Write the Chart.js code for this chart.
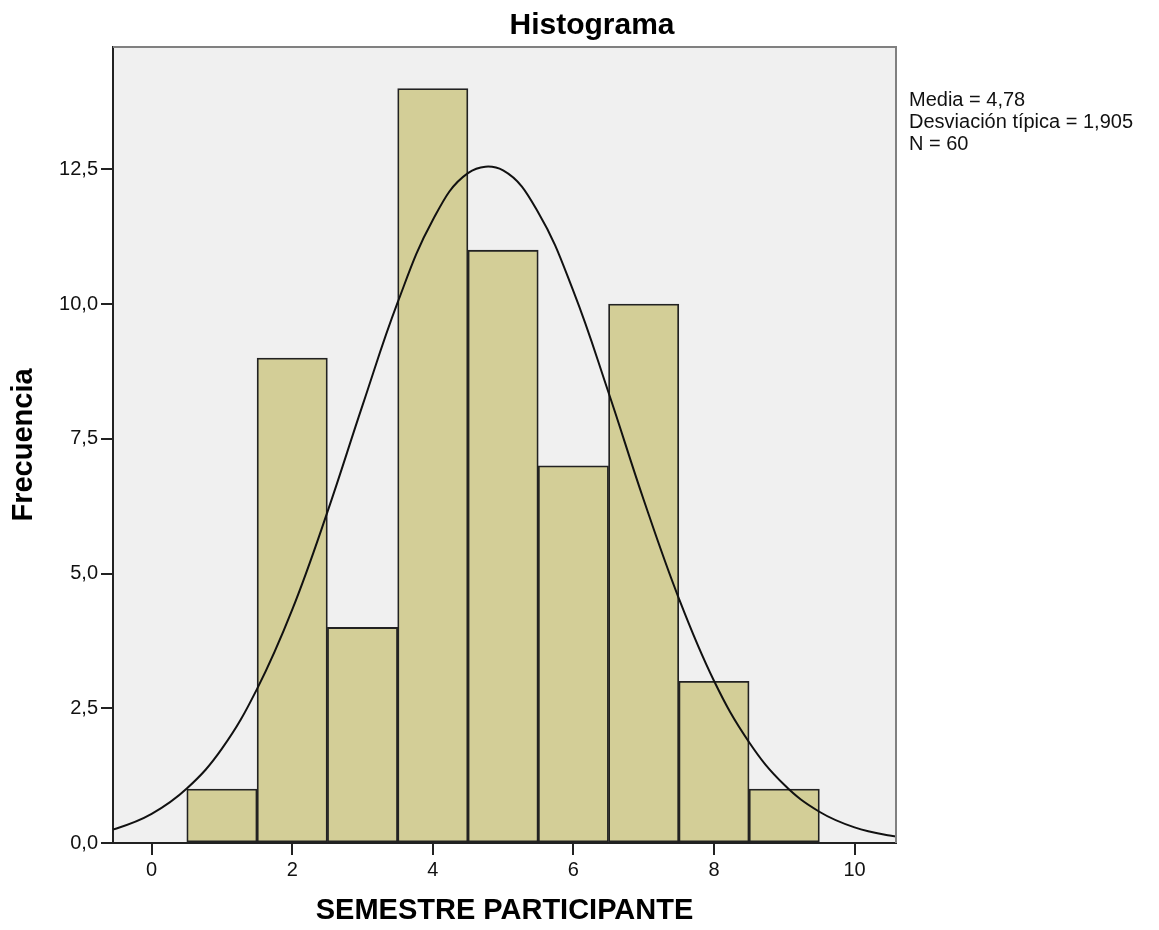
<!DOCTYPE html>
<html lang="es">
<head>
<meta charset="utf-8">
<title>Histograma</title>
<script src="https://cdn.jsdelivr.net/npm/chart.js@4/dist/chart.umd.min.js"></script>
<style>
  html, body { margin: 0; padding: 0; background: #fff; }
  #wrap { position: relative; width: 1159px; height: 930px; }
  #title {
    position: absolute; left: 392px; width: 400px; top: 6px; text-align: center;
    font: bold 30px "Liberation Sans", Arial, sans-serif; line-height: 36px; color: #000;
  }
  #stats {
    position: absolute; left: 909px; top: 88px;
    font: 20px "Liberation Sans", Arial, sans-serif; line-height: 22px; color: #111;
    white-space: nowrap;
  }
</style>
</head>
<body>
<div id="wrap">
  <canvas id="chart" width="1159" height="930"></canvas>
  <div id="title">Histograma</div>
  <div id="stats"></div>
</div>
<script>
  // semestre (centro de cada barra) y frecuencia
  const binCenters = [1, 2, 3, 4, 5, 6, 7, 8, 9];
  const frequencies = [1, 9, 4, 14, 11, 7, 10, 3, 1];

  // curva normal (paso de 0,5; se recorta en el area)
  const curveX = [-1, -0.5, 0, 0.5, 1, 1.5, 2, 2.5, 3, 3.5, 4, 4.5, 5, 5.5, 6, 6.5, 7, 7.5, 8, 8.5, 9, 9.5, 10, 10.5, 11];
  const curveY = [0.13, 0.27, 0.54, 1.01, 1.75, 2.86, 4.33, 6.14, 8.12, 10.03, 11.56, 12.43, 12.48, 11.70, 10.24, 8.36, 6.37, 4.54, 3.01, 1.87, 1.08, 0.58, 0.29, 0.14, 0.06];

  const xTicks = [0, 2, 4, 6, 8, 10];
  const yTicks = [0, 2.5, 5, 7.5, 10, 12.5];
  const statsLines = ["Media = 4,78", "Desviación típica = 1,905", "N = 60"];

  document.getElementById("stats").innerHTML = statsLines.join("<br>");

  const FONT = "'Liberation Sans', Arial, sans-serif";

  const plotFrame = {
    id: "plotFrame",
    beforeDraw(chart) {
      const { ctx, chartArea: a } = chart;
      ctx.save();
      ctx.fillStyle = "#f0f0f0";
      ctx.fillRect(a.left, a.top, a.right - a.left, a.bottom - a.top);
      ctx.restore();
    },
    afterDraw(chart) {
      const { ctx, chartArea: a } = chart;
      ctx.save();
      ctx.strokeStyle = "#808080";
      ctx.lineWidth = 2;
      ctx.beginPath();
      ctx.moveTo(a.left, a.top);
      ctx.lineTo(a.right, a.top);
      ctx.lineTo(a.right, a.bottom);
      ctx.stroke();
      ctx.restore();
    },
  };

  new Chart(document.getElementById("chart"), {
    type: "bar",
    data: {
      datasets: [
        {
          type: "line",
          order: 0,
          data: curveX.map((x, i) => ({ x, y: curveY[i] })),
          borderColor: "#111111",
          borderWidth: 2,
          pointRadius: 0,
          fill: false,
          tension: 0.4,
        },
        {
          type: "bar",
          order: 1,
          data: binCenters.map((x, i) => ({ x, y: frequencies[i] })),
          backgroundColor: "#d3ce97",
          borderColor: "#222222",
          borderWidth: 1.8,
          borderSkipped: false,
          barPercentage: 1,
          categoryPercentage: 1,
        },
      ],
    },
    options: {
      responsive: false,
      animation: false,
      layout: { padding: { left: 0, right: 263, top: 47, bottom: 0 } },
      plugins: {
        legend: { display: false },
        tooltip: { enabled: false },
        title: { display: false },
      },
      scales: {
        x: {
          type: "linear",
          min: -0.55,
          max: 10.59,
          offset: false,
          afterBuildTicks: (s) => { s.ticks = xTicks.map((v) => ({ value: v })); },
          afterFit: (s) => { s.height = 87; },
          ticks: { color: "#111", font: { family: FONT, size: 20 }, padding: 3, maxRotation: 0, callback: (v) => String(v) },
          grid: { drawOnChartArea: false, drawTicks: true, tickLength: 12, color: "#222", lineWidth: 2, offset: false },
          border: { color: "#222", width: 2 },
          title: {
            display: true,
            text: "SEMESTRE PARTICIPANTE",
            color: "#000",
            font: { family: FONT, size: 29, weight: "bold" },
            padding: { top: 0, bottom: 2 },
          },
        },
        y: {
          min: 0,
          max: 14.77,
          afterBuildTicks: (s) => { s.ticks = yTicks.map((v) => ({ value: v })); },
          afterFit: (s) => { s.width = 113; },
          ticks: { color: "#111", font: { family: FONT, size: 20 }, padding: 3, callback: (v) => v.toFixed(1).replace(".", ",") },
          grid: { drawOnChartArea: false, drawTicks: true, tickLength: 12, color: "#222", lineWidth: 2 },
          border: { color: "#222", width: 2 },
          title: {
            display: true,
            text: "Frecuencia",
            color: "#000",
            font: { family: FONT, size: 29, weight: "bold" },
            padding: { top: 7, bottom: 0 },
          },
        },
      },
    },
    plugins: [plotFrame],
  });
</script>
</body>
</html>
